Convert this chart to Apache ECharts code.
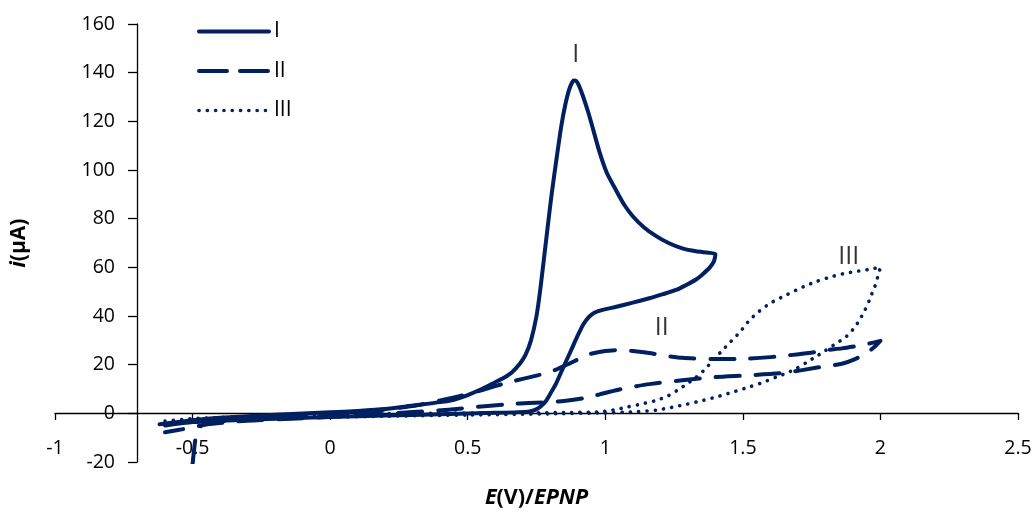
<!DOCTYPE html>
<html>
<head>
<meta charset="utf-8">
<script src="https://cdn.jsdelivr.net/npm/echarts@6/dist/echarts.min.js"></script>
<style>
html,body{margin:0;padding:0;background:#fff;overflow:hidden;}
#chart{width:1035px;height:513px;}
</style>
</head>
<body>
<div id="chart"></div>
<script>
// ---- data (E in V, i in µA) ----
const seriesNames = ['I', 'II', 'III'];

const curveI = [
  [-0.62,-4.5],[-0.5,-2.8],[-0.4,-1.8],[-0.2,-0.6],[0,0.4],[0.1,1.0],[0.2,1.8],[0.3,3.2],[0.4,4.6],
  [0.45,5.6],[0.5,7.5],[0.555,10.2],[0.6,12.8],[0.63,14.5],[0.66,16.8],[0.69,20.5],[0.71,24],
  [0.73,30],[0.75,40],[0.765,52],[0.79,76],[0.805,90],[0.822,104],[0.84,118],[0.855,127],
  [0.87,133.5],[0.885,136.8],[0.895,136.5],[0.905,134.5],[0.92,130],[0.94,123],[0.955,117],
  [0.98,107],[1.005,99],[1.04,91.5],[1.07,85.5],[1.1,81],[1.14,76.5],[1.185,72.8],
  [1.23,70],[1.28,67.8],[1.33,66.6],[1.375,66],[1.4,65.5],[1.395,62.5],[1.38,60],
  [1.355,57.3],[1.33,55],[1.29,52.5],[1.26,50.8],[1.21,49],[1.16,47.3],[1.1,45.5],
  [1.04,43.8],[0.99,42.5],[0.96,41.3],[0.94,39.5],[0.92,36.5],[0.9,32],[0.88,27],
  [0.86,22],[0.84,17],[0.82,12],[0.8,8],[0.785,5.2],[0.765,2.8],[0.745,1.4],[0.72,0.7],
  [0.6,0.2],[0.4,-0.4],[0.2,-0.9],[0,-1.5],[-0.2,-2.2],[-0.4,-3.0],[-0.5,-3.6],[-0.6,-5.0]
];

const curveII = [
  [-0.5,-21],[-0.485,-7.5],[-0.46,-4.5],[-0.4,-3.4],[-0.3,-2.5],[-0.1,-1.2],[0.1,0.3],
  [0.3,3.0],[0.45,6.5],[0.55,9.5],[0.65,12.8],[0.75,15.5],[0.8,17],[0.87,20.5],[0.94,24.2],
  [1.0,25.6],[1.05,26],[1.1,25.6],[1.16,24.8],[1.22,23.6],[1.28,22.8],[1.4,22.3],
  [1.52,22.5],[1.6,23.1],[1.67,23.9],[1.74,24.8],[1.8,25.9],[1.86,26.7],[1.91,27.6],
  [1.96,28.7],[2.0,29.8],[1.98,27.5],[1.95,24.8],[1.91,22.4],[1.86,20.4],[1.8,19.3],
  [1.77,18.8],[1.65,16.6],[1.52,15.6],[1.4,14.9],[1.28,13.6],[1.16,12],[1.1,10.9],
  [1.04,9.5],[0.98,7.8],[0.92,6.2],[0.85,5.1],[0.8,4.6],[0.68,4.0],[0.55,2.8],[0.43,1.5],
  [0.3,0.5],[0.1,-0.8],[-0.1,-2.0],[-0.3,-3.0],[-0.45,-4.6],[-0.52,-6.2],[-0.6,-7.8]
];

const curveIII = [
  [-0.6,-3.2],[-0.5,-2.2],[-0.3,-1.3],[0,-0.5],[0.3,0.0],[0.6,0.2],[0.85,0.3],[0.98,0.6],
  [1.04,1.6],[1.08,2.6],[1.13,3.8],[1.185,5.3],[1.23,7.3],[1.26,9.3],[1.3,12.3],[1.33,14.9],
  [1.36,17.8],[1.39,21.6],[1.42,25.2],[1.45,28.8],[1.49,33.5],[1.525,38.4],[1.56,42],
  [1.6,45.3],[1.65,48.2],[1.72,52],[1.77,54.3],[1.83,56.4],[1.87,57.5],[1.91,58.3],
  [1.96,59.2],[2.0,60],[1.99,56],[1.984,53.4],[1.972,50],[1.96,46.5],[1.944,42.5],
  [1.924,38.3],[1.905,35.2],[1.888,32.8],[1.865,30.6],[1.839,28.7],[1.8,25.8],
  [1.767,23.4],[1.73,20.8],[1.694,18.4],[1.66,16.6],[1.621,14.9],[1.575,12.8],
  [1.525,10.9],[1.46,8.6],[1.403,6.7],[1.34,4.9],[1.282,3.4],[1.23,2.2],[1.185,1.3],
  [1.1,0.6],[1.0,0.2],[0.8,-0.2],[0.5,-0.7],[0.2,-1.2],[0,-1.6],[-0.3,-2.4],[-0.6,-4.2]
];

const annotations = [
  { name: 'I',   value: [0.893, 147.5] },
  { name: 'II',  value: [1.205, 35.0] },
  { name: 'III', value: [1.885, 64.5] }
];

const xTicks = { min: -1, max: 2.5, step: 0.5 };
const yTicks = { min: -20, max: 160, step: 20 };

// ---- styling ----
const navy = '#002060';
const font = '"Open Sans", Lato, sans-serif';

const styleI   = { color: navy, width: 4, type: 'solid', cap: 'round', join: 'round' };
const styleII  = { color: navy, width: 4, type: [24, 16], cap: 'round', join: 'round' };
const styleIII = { color: navy, width: 3.6, type: [0.1, 8.2], cap: 'round', join: 'round' };

const chart = echarts.init(document.getElementById('chart'), null, { renderer: 'canvas' });

function lineSeries(name, data, ls) {
  return {
    name: name,
    type: 'line',
    data: data,
    showSymbol: false,
    symbol: 'none',
    smooth: 0.2,
    lineStyle: ls,
    itemStyle: { color: navy },
    animation: false,
    z: 3
  };
}

const hiddenSymbol = { color: 'rgba(0,0,0,0)', borderWidth: 0, opacity: 0 };

// grid geometry: x axis line sits at i = 0, y axis line sits at E ≈ -0.70
const gridBottomPx = 462, zeroPx = 413, gridLeftPx = 55, yAxisPx = 137;

const option = {
  animation: false,
  backgroundColor: '#ffffff',
  grid: { left: gridLeftPx, right: 17, top: 24, bottom: 513 - gridBottomPx, containLabel: false, outerBoundsMode: 'none' },
  legend: {
    orient: 'vertical',
    left: 192,
    top: 16,
    itemWidth: 70,
    itemHeight: 19,
    itemGap: 18.5,
    textStyle: { fontFamily: font, fontSize: 21, color: '#000' },
    itemStyle: hiddenSymbol,
    data: [
      { name: 'I',   itemStyle: hiddenSymbol, lineStyle: { width: 4, type: 'solid', cap: 'round' } },
      { name: 'II',  itemStyle: hiddenSymbol, lineStyle: { width: 4, type: [28, 13], cap: 'round' } },
      { name: 'III', itemStyle: hiddenSymbol, lineStyle: { width: 3.6, type: [0.1, 8.2], cap: 'round' } }
    ]
  },
  xAxis: {
    type: 'value',
    position: 'bottom',
    offset: -(gridBottomPx - zeroPx),
    min: xTicks.min,
    max: xTicks.max,
    interval: xTicks.step,
    name: '{i|E}{b|(V)/}{i|EPNP}',
    nameLocation: 'middle',
    nameGap: 74,
    nameTextStyle: {
      rich: {
        i: { fontFamily: font, fontSize: 21.5, fontWeight: 'bold', fontStyle: 'italic', color: '#000' },
        b: { fontFamily: font, fontSize: 21.5, fontWeight: 'bold', color: '#000' }
      }
    },
    axisLine: { show: true, onZero: false, lineStyle: { color: '#000', width: 1.3 } },
    axisTick: { show: true, length: 7, lineStyle: { color: '#000', width: 1.3 } },
    axisLabel: { fontFamily: font, fontSize: 19.5, color: '#000', margin: 25 },
    splitLine: { show: false }
  },
  yAxis: {
    type: 'value',
    min: yTicks.min,
    max: yTicks.max,
    interval: yTicks.step,
    offset: -(yAxisPx - gridLeftPx),
    name: '{i|i}{b|(μA)}',
    nameLocation: 'middle',
    nameGap: 107,
    nameRotate: 90,
    nameTextStyle: {
      rich: {
        i: { fontFamily: font, fontSize: 21, fontWeight: 'bold', fontStyle: 'italic', color: '#000' },
        b: { fontFamily: font, fontSize: 21, fontWeight: 'bold', color: '#000' }
      }
    },
    axisLine: { show: true, onZero: false, lineStyle: { color: '#000', width: 1.3 } },
    axisTick: { show: true, length: 9, lineStyle: { color: '#000', width: 1.3 } },
    axisLabel: { fontFamily: font, fontSize: 19.5, color: '#000', margin: 22 },
    splitLine: { show: false }
  },
  series: [
    lineSeries(seriesNames[0], curveI, styleI),
    lineSeries(seriesNames[1], curveII, styleII),
    lineSeries(seriesNames[2], curveIII, styleIII),
    {
      name: 'labels',
      type: 'scatter',
      data: annotations,
      symbolSize: 1,
      itemStyle: { color: 'rgba(0,0,0,0)' },
      silent: true,
      animation: false,
      label: {
        show: true,
        position: 'inside',
        formatter: function (p) { return p.name; },
        fontFamily: font,
        fontSize: 25,
        color: '#000'
      },
      z: 5
    }
  ]
};

chart.setOption(option);
</script>
</body>
</html>
